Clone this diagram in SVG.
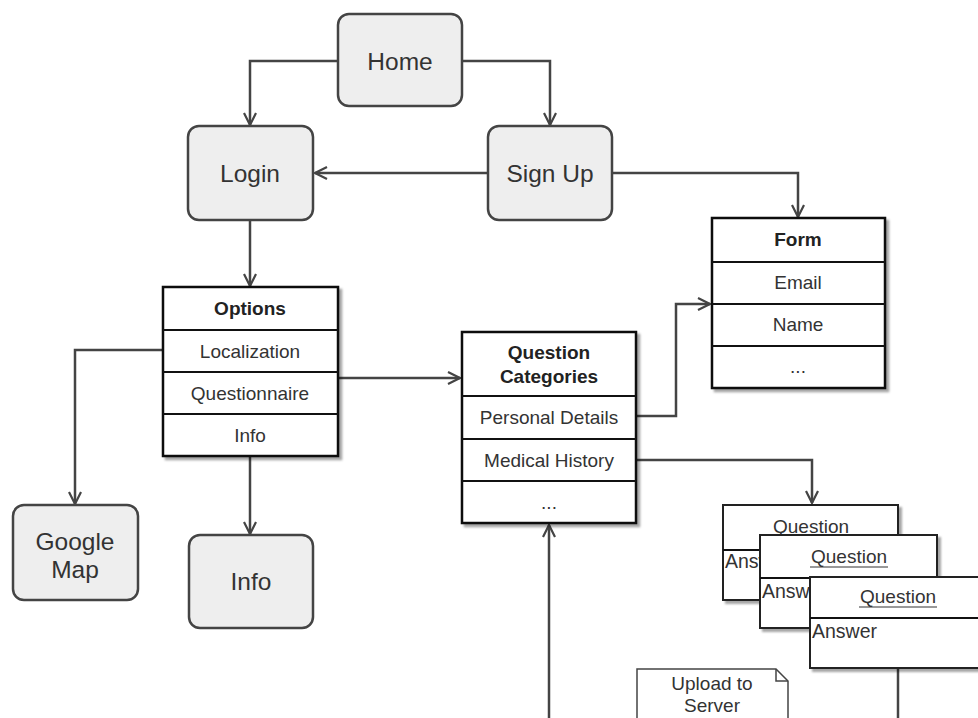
<svg xmlns="http://www.w3.org/2000/svg" width="978" height="718" viewBox="0 0 978 718">
  <defs>
    <marker id="arr" viewBox="0 0 14 14" refX="13" refY="7" markerWidth="14" markerHeight="14" markerUnits="userSpaceOnUse" orient="auto">
      <path d="M1,1 L13,7 L1,13" fill="none" stroke="#444" stroke-width="2.2"/>
    </marker>
    <filter id="sh" x="-10%" y="-10%" width="130%" height="130%">
      <feOffset dx="3" dy="3" in="SourceAlpha" result="o"/>
      <feGaussianBlur in="o" stdDeviation="1.2" result="b"/>
      <feColorMatrix in="b" type="matrix" values="0 0 0 0 0  0 0 0 0 0  0 0 0 0 0  0 0 0 0.35 0"/>
      <feMerge><feMergeNode/><feMergeNode in="SourceGraphic"/></feMerge>
    </filter>
  </defs>
  <style>
    .screen { fill: #eeeeee; stroke: #444; stroke-width: 2.5; }
    .big { font-family: "Liberation Sans", Arial, sans-serif; font-size: 24.5px; fill: #333; text-anchor: middle; }
    .tbl { fill: #fff; stroke: #111; stroke-width: 2.5; }
    .sep { stroke: #111; stroke-width: 2; }
    .row { font-family: "Liberation Sans", Arial, sans-serif; font-size: 19px; fill: #333; text-anchor: middle; }
    .hdr { font-family: "Liberation Sans", Arial, sans-serif; font-size: 19px; font-weight: bold; fill: #222; text-anchor: middle; }
    .edge { fill: none; stroke: #444; stroke-width: 2.5; }
    .card { fill: #fff; stroke: #222; stroke-width: 2; }
    .ans { font-family: "Liberation Sans", Arial, sans-serif; font-size: 19.5px; fill: #333; }
  </style>

  <rect width="978" height="718" fill="#fff"/>

  <!-- connectors -->
  <g id="connectors">
    <path class="edge" d="M338,61 H250 V125" marker-end="url(#arr)"/>
    <path class="edge" d="M462,61 H550 V125" marker-end="url(#arr)"/>
    <path class="edge" d="M488,173 H315" marker-end="url(#arr)"/>
    <path class="edge" d="M612,173 H798 V217" marker-end="url(#arr)"/>
    <path class="edge" d="M250,220 V286" marker-end="url(#arr)"/>
    <path class="edge" d="M163,350 H75 V504" marker-end="url(#arr)"/>
    <path class="edge" d="M250,456 V534" marker-end="url(#arr)"/>
    <path class="edge" d="M338,378 H460" marker-end="url(#arr)"/>
    <path class="edge" d="M636,416 H676 V304 H710" marker-end="url(#arr)"/>
    <path class="edge" d="M636,460 H812 V503" marker-end="url(#arr)"/>
    <path class="edge" d="M549,718 V525" marker-end="url(#arr)"/>
    <path class="edge" d="M898,668 V718"/>
  </g>

  <!-- screens -->
  <g id="home">
    <rect class="screen" x="338" y="14" width="124" height="92" rx="11"/>
    <text class="big" x="400" y="70">Home</text>
  </g>
  <g id="login">
    <rect class="screen" x="188" y="126" width="125" height="94" rx="11"/>
    <text class="big" x="250" y="182">Login</text>
  </g>
  <g id="signup">
    <rect class="screen" x="488" y="126" width="124" height="94" rx="11"/>
    <text class="big" x="550" y="182">Sign Up</text>
  </g>
  <g id="googlemap">
    <rect class="screen" x="13" y="505" width="125" height="95" rx="11"/>
    <text class="big" x="75" y="550">Google</text>
    <text class="big" x="75" y="578">Map</text>
  </g>
  <g id="info">
    <rect class="screen" x="189" y="535" width="124" height="93" rx="11"/>
    <text class="big" x="251" y="590">Info</text>
  </g>

  <!-- options table -->
  <g id="options">
    <rect class="tbl" x="163" y="287" width="175" height="169" filter="url(#sh)"/>
    <line class="sep" x1="163" y1="330" x2="338" y2="330"/>
    <line class="sep" x1="163" y1="372" x2="338" y2="372"/>
    <line class="sep" x1="163" y1="414" x2="338" y2="414" stroke-width="3"/>
    <text class="hdr" x="250" y="315">Options</text>
    <text class="row" x="250" y="358">Localization</text>
    <text class="row" x="250" y="400">Questionnaire</text>
    <text class="row" x="250" y="442">Info</text>
  </g>

  <!-- question categories table -->
  <g id="question-categories">
    <rect class="tbl" x="462" y="332" width="174" height="191" filter="url(#sh)"/>
    <line class="sep" x1="462" y1="396" x2="636" y2="396"/>
    <line class="sep" x1="462" y1="439" x2="636" y2="439"/>
    <line class="sep" x1="462" y1="481" x2="636" y2="481"/>
    <text class="hdr" x="549" y="359">Question</text>
    <text class="hdr" x="549" y="383">Categories</text>
    <text class="row" x="549" y="424">Personal Details</text>
    <text class="row" x="549" y="467">Medical History</text>
    <text class="row" x="549" y="509" font-size="12">...</text>
  </g>

  <!-- form table -->
  <g id="form">
    <rect class="tbl" x="712" y="218" width="173" height="170" filter="url(#sh)"/>
    <line class="sep" x1="712" y1="262" x2="885" y2="262"/>
    <line class="sep" x1="712" y1="304" x2="885" y2="304"/>
    <line class="sep" x1="712" y1="346" x2="885" y2="346"/>
    <text class="hdr" x="798" y="246">Form</text>
    <text class="row" x="798" y="289">Email</text>
    <text class="row" x="798" y="331">Name</text>
    <text class="row" x="798" y="373" font-size="12">...</text>
  </g>

  <!-- question cards -->
  <g id="question-1">
    <rect class="card" x="723" y="505" width="175" height="95" filter="url(#sh)"/>
    <line class="sep" x1="723" y1="550" x2="898" y2="550"/>
    <text class="row" x="811" y="533">Question</text>
    <line x1="772" y1="537" x2="850" y2="537" stroke="#333" stroke-width="1"/>
    <text class="ans" x="725" y="568">Answer</text>
  </g>
  <g id="question-2">
    <rect class="card" x="760" y="535" width="177" height="93" filter="url(#sh)"/>
    <line class="sep" x1="760" y1="578" x2="937" y2="578"/>
    <text class="row" x="849" y="563">Question</text>
    <line x1="810" y1="567" x2="888" y2="567" stroke="#333" stroke-width="1"/>
    <text class="ans" x="762" y="598">Answer</text>
  </g>
  <g id="question-3">
    <rect class="card" x="810" y="577" width="172" height="91" filter="url(#sh)"/>
    <line class="sep" x1="810" y1="618" x2="980" y2="618"/>
    <text class="row" x="898" y="603">Question</text>
    <line x1="859" y1="607" x2="937" y2="607" stroke="#333" stroke-width="1"/>
    <text class="ans" x="812" y="638">Answer</text>
  </g>

  <!-- note -->
  <g id="upload-note">
    <path d="M637,720 V669 H776 L788,681 V720" fill="#fff" stroke="#444" stroke-width="1.5"/>
    <path d="M776,669 V681 H788" fill="none" stroke="#444" stroke-width="1.5"/>
    <text class="row" x="712" y="690">Upload to</text>
    <text class="row" x="712" y="712">Server</text>
  </g>
</svg>
